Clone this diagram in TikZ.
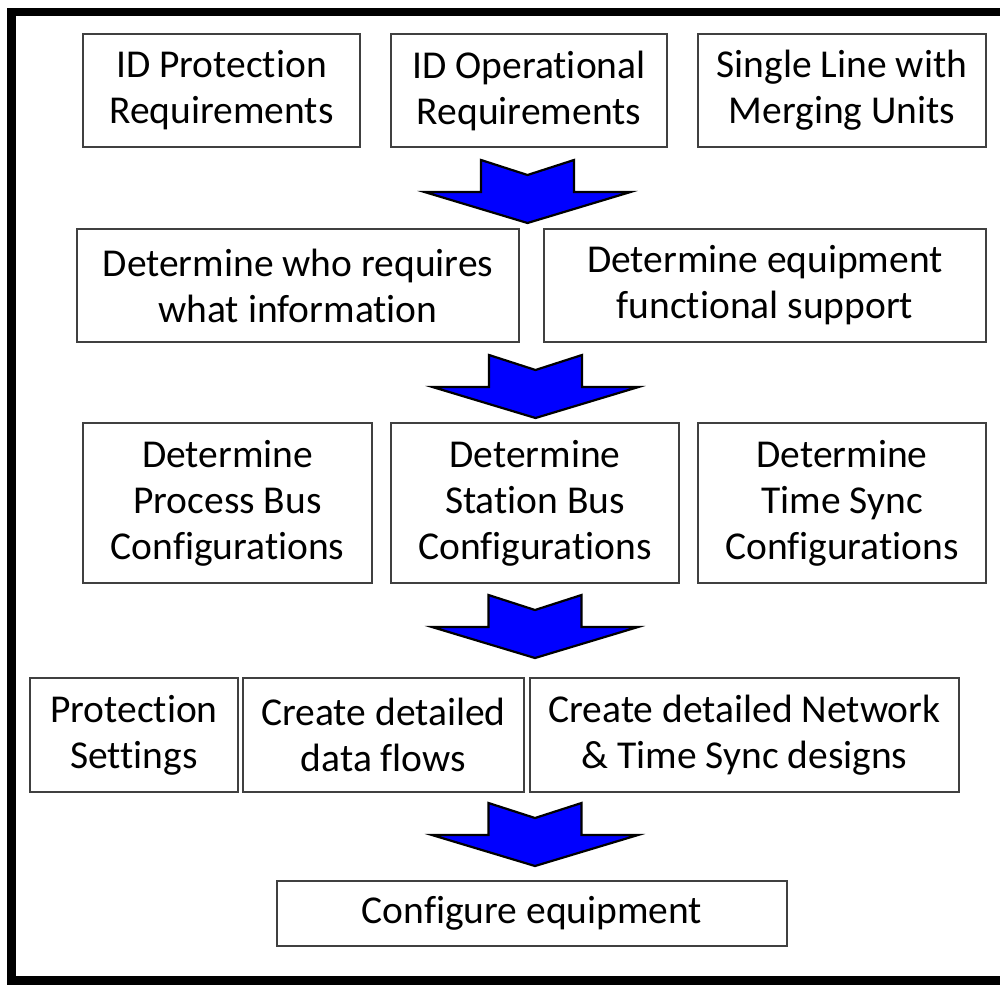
\documentclass[tikz,border=0pt]{standalone}
\usepackage{fontspec}
\setmainfont{Carlito}[RawFeature={-liga}]
\tikzset{
  box/.style={draw=black!75, line width=1.5pt, fill=white, align=center,
    inner sep=0pt, font=\fontsize{39.5}{46}\selectfont},
  blockarrow/.style={draw=black, line width=2.2pt, fill=blue, line join=miter},
  pics/downarrow/.style={code={
    \path[blockarrow] (-46.5,0) -- (0,15) -- (46.5,0) -- (46.5,32) -- (103,32)
      -- (0,63) -- (-103,32) -- (-46.5,32) -- cycle;
  }}
}
\begin{document}
\begin{tikzpicture}[x=1pt,y=-1pt]
\useasboundingbox (0,0) rectangle (1000,984);
% outer frame
\draw[line width=8.5pt] (1000,12) -- (11.5,12) -- (11.5,980.5) -- (1000,980.5);

% first row: inputs
\node[box, minimum width=277pt, minimum height=113pt] (protreq) at (221.5,90.5) {ID Protection\\Requirements};
\node[box, minimum width=276pt, minimum height=113pt] (operreq) at (529,90.5) {ID Operational\\Requirements};
\node[box, minimum width=288pt, minimum height=113pt] (singleline) at (842,90.5) {Single Line with\\Merging Units};

% second row
\node[box, minimum width=442pt, minimum height=113pt] (who) at (298,285.5) {Determine who requires\\what information};
\node[box, minimum width=442pt, minimum height=113pt] (equip) at (765,285.5) {Determine equipment\\functional support};

% third row
\node[box, minimum width=289pt, minimum height=160pt] (procbus) at (227.5,503) {Determine\\Process Bus\\Configurations};
\node[box, minimum width=288pt, minimum height=160pt] (statbus) at (535,503) {Determine\\Station Bus\\Configurations};
\node[box, minimum width=288pt, minimum height=160pt] (timesync) at (842,503) {Determine\\Time Sync\\Configurations};

% fourth row
\node[box, minimum width=208pt, minimum height=114pt] (settings) at (134,735) {Protection\\Settings};
\node[box, minimum width=281pt, minimum height=114pt] (flows) at (383.5,735) {Create detailed\\data flows};
\node[box, minimum width=429pt, minimum height=114pt] (network) at (744.5,735) {Create detailed Network\\\& Time Sync designs};

% final step
\node[box, minimum width=510pt, minimum height=65pt] (configure) at (532,913.5) {Configure equipment};

% block arrows between the rows
\pic at (527.5,160) {downarrow};
\pic at (535.5,355) {downarrow};
\pic at (535,595) {downarrow};
\pic at (535,803) {downarrow};
\end{tikzpicture}
\end{document}
